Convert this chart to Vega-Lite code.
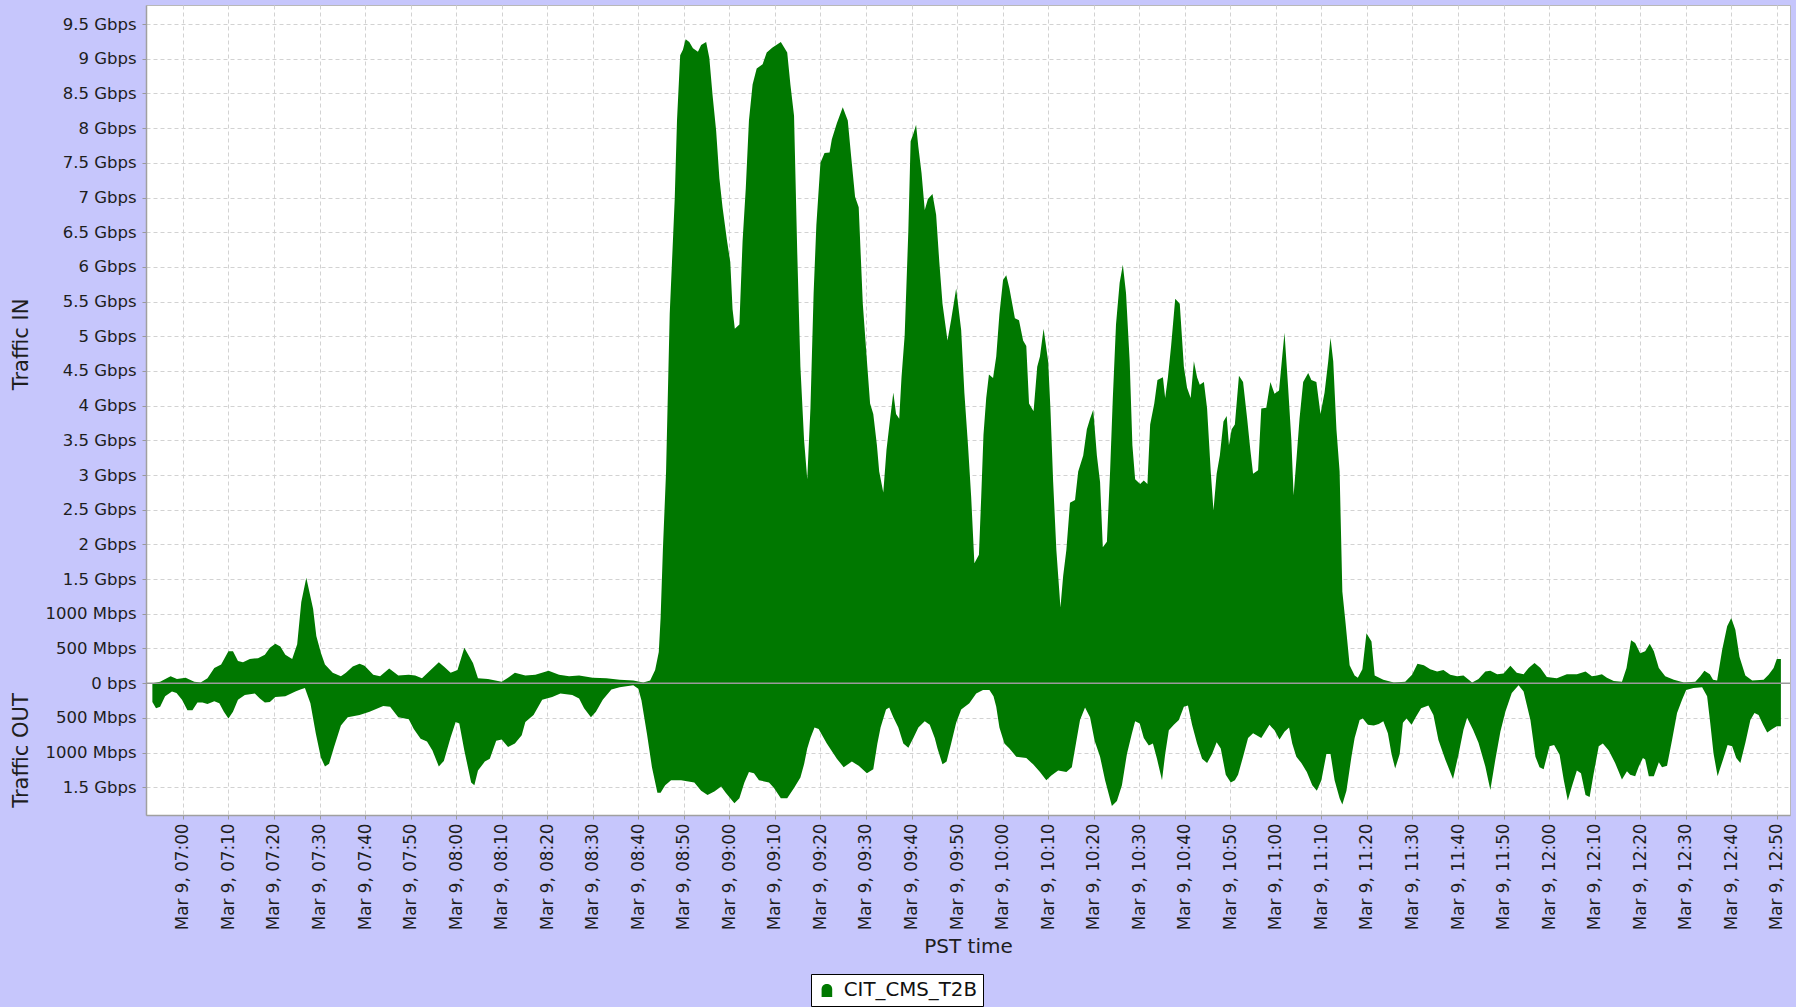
{
"$schema": "https://vega.github.io/schema/vega-lite/v6.json",
"width": 1644,
"height": 810,
"autosize": {"type": "none"},
"padding": {"left": 146, "top": 5, "right": 6, "bottom": 192},
"background": "#c6c6fc",
"config": {
  "font": "DejaVu Sans",
  "view": {"fill": "white", "stroke": "#b8b8b8", "strokeWidth": 1}
},
"layer": [
  {
    "data": {"values": [
{"min":-6.7,"dir":"IN","gbps":0},{"min":-5.0,"dir":"IN","gbps":0.02},{"min":-2.7,"dir":"IN","gbps":0.10},{"min":-1.3,"dir":"IN","gbps":0.06},{"min":0.6,"dir":"IN","gbps":0.08},{"min":2.5,"dir":"IN","gbps":0.02},{"min":3.9,"dir":"IN","gbps":0.01},{"min":5.4,"dir":"IN","gbps":0.07},{"min":6.9,"dir":"IN","gbps":0.22},{"min":8.4,"dir":"IN","gbps":0.27},{"min":10.0,"dir":"IN","gbps":0.46},{"min":11.0,"dir":"IN","gbps":0.46},{"min":12.1,"dir":"IN","gbps":0.32},{"min":13.2,"dir":"IN","gbps":0.30},{"min":14.7,"dir":"IN","gbps":0.35},{"min":16.5,"dir":"IN","gbps":0.36},{"min":18.0,"dir":"IN","gbps":0.41},{"min":19.1,"dir":"IN","gbps":0.51},{"min":20.3,"dir":"IN","gbps":0.57},{"min":21.4,"dir":"IN","gbps":0.53},{"min":22.5,"dir":"IN","gbps":0.41},{"min":24.0,"dir":"IN","gbps":0.35},{"min":25.1,"dir":"IN","gbps":0.56},{"min":26.0,"dir":"IN","gbps":1.17},{"min":27.1,"dir":"IN","gbps":1.52},{"min":28.6,"dir":"IN","gbps":1.07},{"min":29.3,"dir":"IN","gbps":0.68},{"min":30.3,"dir":"IN","gbps":0.44},{"min":31.2,"dir":"IN","gbps":0.27},{"min":32.9,"dir":"IN","gbps":0.15},{"min":34.7,"dir":"IN","gbps":0.10},{"min":35.8,"dir":"IN","gbps":0.15},{"min":37.3,"dir":"IN","gbps":0.24},{"min":38.8,"dir":"IN","gbps":0.28},{"min":39.9,"dir":"IN","gbps":0.25},{"min":41.8,"dir":"IN","gbps":0.12},{"min":43.3,"dir":"IN","gbps":0.10},{"min":45.3,"dir":"IN","gbps":0.21},{"min":47.3,"dir":"IN","gbps":0.11},{"min":49.6,"dir":"IN","gbps":0.12},{"min":51.0,"dir":"IN","gbps":0.11},{"min":52.5,"dir":"IN","gbps":0.07},{"min":54.4,"dir":"IN","gbps":0.19},{"min":56.2,"dir":"IN","gbps":0.30},{"min":57.3,"dir":"IN","gbps":0.24},{"min":58.8,"dir":"IN","gbps":0.15},{"min":60.3,"dir":"IN","gbps":0.19},{"min":61.8,"dir":"IN","gbps":0.51},{"min":63.7,"dir":"IN","gbps":0.29},{"min":64.8,"dir":"IN","gbps":0.07},{"min":67.0,"dir":"IN","gbps":0.06},{"min":70.0,"dir":"IN","gbps":0.02},{"min":71.4,"dir":"IN","gbps":0.08},{"min":72.9,"dir":"IN","gbps":0.15},{"min":75.2,"dir":"IN","gbps":0.11},{"min":77.4,"dir":"IN","gbps":0.12},{"min":80.3,"dir":"IN","gbps":0.18},{"min":82.6,"dir":"IN","gbps":0.12},{"min":84.8,"dir":"IN","gbps":0.10},{"min":87.0,"dir":"IN","gbps":0.11},{"min":90.0,"dir":"IN","gbps":0.08},{"min":93.0,"dir":"IN","gbps":0.07},{"min":95.9,"dir":"IN","gbps":0.05},{"min":98.9,"dir":"IN","gbps":0.04},{"min":101.1,"dir":"IN","gbps":0.01},{"min":102.6,"dir":"IN","gbps":0.04},{"min":103.7,"dir":"IN","gbps":0.19},{"min":104.5,"dir":"IN","gbps":0.45},{"min":104.9,"dir":"IN","gbps":0.94},{"min":105.4,"dir":"IN","gbps":1.92},{"min":106.1,"dir":"IN","gbps":3.05},{"min":106.9,"dir":"IN","gbps":5.32},{"min":107.4,"dir":"IN","gbps":6.07},{"min":108.0,"dir":"IN","gbps":6.98},{"min":108.5,"dir":"IN","gbps":8.11},{"min":109.2,"dir":"IN","gbps":9.05},{"min":109.8,"dir":"IN","gbps":9.13},{"min":110.4,"dir":"IN","gbps":9.28},{"min":111.2,"dir":"IN","gbps":9.24},{"min":112.0,"dir":"IN","gbps":9.15},{"min":113.1,"dir":"IN","gbps":9.10},{"min":113.8,"dir":"IN","gbps":9.20},{"min":114.9,"dir":"IN","gbps":9.24},{"min":115.6,"dir":"IN","gbps":9.01},{"min":116.3,"dir":"IN","gbps":8.48},{"min":117.1,"dir":"IN","gbps":7.96},{"min":117.8,"dir":"IN","gbps":7.28},{"min":118.5,"dir":"IN","gbps":6.86},{"min":119.5,"dir":"IN","gbps":6.37},{"min":120.2,"dir":"IN","gbps":6.07},{"min":120.7,"dir":"IN","gbps":5.39},{"min":121.2,"dir":"IN","gbps":5.11},{"min":122.2,"dir":"IN","gbps":5.17},{"min":122.9,"dir":"IN","gbps":6.37},{"min":123.6,"dir":"IN","gbps":7.13},{"min":124.3,"dir":"IN","gbps":8.11},{"min":125.1,"dir":"IN","gbps":8.63},{"min":126.0,"dir":"IN","gbps":8.86},{"min":127.3,"dir":"IN","gbps":8.92},{"min":128.2,"dir":"IN","gbps":9.09},{"min":129.4,"dir":"IN","gbps":9.16},{"min":131.3,"dir":"IN","gbps":9.24},{"min":132.7,"dir":"IN","gbps":9.09},{"min":133.4,"dir":"IN","gbps":8.63},{"min":134.2,"dir":"IN","gbps":8.18},{"min":134.9,"dir":"IN","gbps":6.22},{"min":135.6,"dir":"IN","gbps":4.56},{"min":136.4,"dir":"IN","gbps":3.51},{"min":137.1,"dir":"IN","gbps":2.94},{"min":137.8,"dir":"IN","gbps":3.96},{"min":138.5,"dir":"IN","gbps":5.62},{"min":139.1,"dir":"IN","gbps":6.60},{"min":140.0,"dir":"IN","gbps":7.50},{"min":140.9,"dir":"IN","gbps":7.64},{"min":142.0,"dir":"IN","gbps":7.65},{"min":142.5,"dir":"IN","gbps":7.84},{"min":143.6,"dir":"IN","gbps":8.07},{"min":144.9,"dir":"IN","gbps":8.30},{"min":146.0,"dir":"IN","gbps":8.11},{"min":146.7,"dir":"IN","gbps":7.62},{"min":147.6,"dir":"IN","gbps":7.01},{"min":148.4,"dir":"IN","gbps":6.86},{"min":149.3,"dir":"IN","gbps":5.47},{"min":150.3,"dir":"IN","gbps":4.56},{"min":150.9,"dir":"IN","gbps":4.03},{"min":151.6,"dir":"IN","gbps":3.88},{"min":152.4,"dir":"IN","gbps":3.43},{"min":152.9,"dir":"IN","gbps":3.05},{"min":153.8,"dir":"IN","gbps":2.75},{"min":154.5,"dir":"IN","gbps":3.36},{"min":155.3,"dir":"IN","gbps":3.81},{"min":156.0,"dir":"IN","gbps":4.19},{"min":156.6,"dir":"IN","gbps":3.88},{"min":157.3,"dir":"IN","gbps":3.81},{"min":157.8,"dir":"IN","gbps":4.41},{"min":158.5,"dir":"IN","gbps":5.02},{"min":159.3,"dir":"IN","gbps":6.52},{"min":159.8,"dir":"IN","gbps":7.81},{"min":160.4,"dir":"IN","gbps":7.92},{"min":161.0,"dir":"IN","gbps":8.05},{"min":161.5,"dir":"IN","gbps":7.73},{"min":162.2,"dir":"IN","gbps":7.35},{"min":162.9,"dir":"IN","gbps":6.82},{"min":163.6,"dir":"IN","gbps":6.98},{"min":164.6,"dir":"IN","gbps":7.05},{"min":165.4,"dir":"IN","gbps":6.75},{"min":166.1,"dir":"IN","gbps":6.07},{"min":166.8,"dir":"IN","gbps":5.47},{"min":167.9,"dir":"IN","gbps":4.94},{"min":168.7,"dir":"IN","gbps":5.24},{"min":169.8,"dir":"IN","gbps":5.69},{"min":170.9,"dir":"IN","gbps":5.09},{"min":171.6,"dir":"IN","gbps":4.19},{"min":172.4,"dir":"IN","gbps":3.43},{"min":173.1,"dir":"IN","gbps":2.68},{"min":173.8,"dir":"IN","gbps":1.73},{"min":174.8,"dir":"IN","gbps":1.85},{"min":175.3,"dir":"IN","gbps":2.68},{"min":175.8,"dir":"IN","gbps":3.58},{"min":176.4,"dir":"IN","gbps":4.11},{"min":177.0,"dir":"IN","gbps":4.45},{"min":177.9,"dir":"IN","gbps":4.40},{"min":178.6,"dir":"IN","gbps":4.71},{"min":179.3,"dir":"IN","gbps":5.32},{"min":180.1,"dir":"IN","gbps":5.81},{"min":180.8,"dir":"IN","gbps":5.88},{"min":181.5,"dir":"IN","gbps":5.69},{"min":182.7,"dir":"IN","gbps":5.26},{"min":183.6,"dir":"IN","gbps":5.23},{"min":184.5,"dir":"IN","gbps":4.94},{"min":185.2,"dir":"IN","gbps":4.86},{"min":185.8,"dir":"IN","gbps":4.03},{"min":186.8,"dir":"IN","gbps":3.92},{"min":187.6,"dir":"IN","gbps":4.56},{"min":188.2,"dir":"IN","gbps":4.71},{"min":189.0,"dir":"IN","gbps":5.11},{"min":190.0,"dir":"IN","gbps":4.64},{"min":190.5,"dir":"IN","gbps":3.96},{"min":191.1,"dir":"IN","gbps":2.90},{"min":191.8,"dir":"IN","gbps":1.92},{"min":192.7,"dir":"IN","gbps":1.09},{"min":193.3,"dir":"IN","gbps":1.55},{"min":194.0,"dir":"IN","gbps":1.92},{"min":194.8,"dir":"IN","gbps":2.60},{"min":195.9,"dir":"IN","gbps":2.64},{"min":196.6,"dir":"IN","gbps":3.05},{"min":197.7,"dir":"IN","gbps":3.28},{"min":198.5,"dir":"IN","gbps":3.66},{"min":199.2,"dir":"IN","gbps":3.81},{"min":199.9,"dir":"IN","gbps":3.94},{"min":200.7,"dir":"IN","gbps":3.28},{"min":201.4,"dir":"IN","gbps":2.90},{"min":202.0,"dir":"IN","gbps":1.96},{"min":202.9,"dir":"IN","gbps":2.04},{"min":203.6,"dir":"IN","gbps":3.05},{"min":204.2,"dir":"IN","gbps":4.11},{"min":204.9,"dir":"IN","gbps":5.17},{"min":205.7,"dir":"IN","gbps":5.77},{"min":206.4,"dir":"IN","gbps":6.03},{"min":207.1,"dir":"IN","gbps":5.62},{"min":207.9,"dir":"IN","gbps":4.64},{"min":208.5,"dir":"IN","gbps":3.43},{"min":209.1,"dir":"IN","gbps":2.94},{"min":210.2,"dir":"IN","gbps":2.87},{"min":211.0,"dir":"IN","gbps":2.92},{"min":211.8,"dir":"IN","gbps":2.87},{"min":212.4,"dir":"IN","gbps":3.73},{"min":213.3,"dir":"IN","gbps":4.03},{"min":214.0,"dir":"IN","gbps":4.37},{"min":215.2,"dir":"IN","gbps":4.41},{"min":215.7,"dir":"IN","gbps":4.11},{"min":216.3,"dir":"IN","gbps":4.41},{"min":217.0,"dir":"IN","gbps":4.86},{"min":217.9,"dir":"IN","gbps":5.54},{"min":218.9,"dir":"IN","gbps":5.47},{"min":219.8,"dir":"IN","gbps":4.56},{"min":220.5,"dir":"IN","gbps":4.26},{"min":221.3,"dir":"IN","gbps":4.11},{"min":222.0,"dir":"IN","gbps":4.64},{"min":222.7,"dir":"IN","gbps":4.41},{"min":223.3,"dir":"IN","gbps":4.30},{"min":224.2,"dir":"IN","gbps":4.34},{"min":224.9,"dir":"IN","gbps":3.96},{"min":225.7,"dir":"IN","gbps":3.05},{"min":226.3,"dir":"IN","gbps":2.49},{"min":227.0,"dir":"IN","gbps":3.02},{"min":227.7,"dir":"IN","gbps":3.28},{"min":228.5,"dir":"IN","gbps":3.77},{"min":229.2,"dir":"IN","gbps":3.85},{"min":229.7,"dir":"IN","gbps":3.43},{"min":230.3,"dir":"IN","gbps":3.66},{"min":231.0,"dir":"IN","gbps":3.73},{"min":231.9,"dir":"IN","gbps":4.43},{"min":232.8,"dir":"IN","gbps":4.34},{"min":233.7,"dir":"IN","gbps":3.81},{"min":234.4,"dir":"IN","gbps":3.36},{"min":235.0,"dir":"IN","gbps":3.02},{"min":236.1,"dir":"IN","gbps":3.07},{"min":236.8,"dir":"IN","gbps":3.96},{"min":237.9,"dir":"IN","gbps":3.97},{"min":238.8,"dir":"IN","gbps":4.34},{"min":239.7,"dir":"IN","gbps":4.17},{"min":240.7,"dir":"IN","gbps":4.22},{"min":241.4,"dir":"IN","gbps":4.71},{"min":241.9,"dir":"IN","gbps":5.05},{"min":242.7,"dir":"IN","gbps":4.26},{"min":243.4,"dir":"IN","gbps":3.51},{"min":243.9,"dir":"IN","gbps":2.71},{"min":244.5,"dir":"IN","gbps":3.21},{"min":245.2,"dir":"IN","gbps":3.81},{"min":246.0,"dir":"IN","gbps":4.34},{"min":247.1,"dir":"IN","gbps":4.47},{"min":247.8,"dir":"IN","gbps":4.37},{"min":248.9,"dir":"IN","gbps":4.34},{"min":249.8,"dir":"IN","gbps":3.88},{"min":250.7,"dir":"IN","gbps":4.19},{"min":251.5,"dir":"IN","gbps":4.64},{"min":252.0,"dir":"IN","gbps":4.98},{"min":252.6,"dir":"IN","gbps":4.64},{"min":253.3,"dir":"IN","gbps":3.66},{"min":254.0,"dir":"IN","gbps":3.05},{"min":254.6,"dir":"IN","gbps":1.32},{"min":255.3,"dir":"IN","gbps":0.87},{"min":256.2,"dir":"IN","gbps":0.26},{"min":257.3,"dir":"IN","gbps":0.11},{"min":258.0,"dir":"IN","gbps":0.08},{"min":259.0,"dir":"IN","gbps":0.20},{"min":259.9,"dir":"IN","gbps":0.72},{"min":261.0,"dir":"IN","gbps":0.60},{"min":261.7,"dir":"IN","gbps":0.11},{"min":263.6,"dir":"IN","gbps":0.05},{"min":265.9,"dir":"IN","gbps":0.01},{"min":268.4,"dir":"IN","gbps":0.02},{"min":269.9,"dir":"IN","gbps":0.12},{"min":271.1,"dir":"IN","gbps":0.28},{"min":272.5,"dir":"IN","gbps":0.26},{"min":273.9,"dir":"IN","gbps":0.20},{"min":275.4,"dir":"IN","gbps":0.17},{"min":276.8,"dir":"IN","gbps":0.19},{"min":278.3,"dir":"IN","gbps":0.12},{"min":279.8,"dir":"IN","gbps":0.10},{"min":281.2,"dir":"IN","gbps":0.11},{"min":283.1,"dir":"IN","gbps":0.01},{"min":284.5,"dir":"IN","gbps":0.06},{"min":286.0,"dir":"IN","gbps":0.17},{"min":287.1,"dir":"IN","gbps":0.18},{"min":288.6,"dir":"IN","gbps":0.13},{"min":290.0,"dir":"IN","gbps":0.14},{"min":291.5,"dir":"IN","gbps":0.25},{"min":292.9,"dir":"IN","gbps":0.15},{"min":294.4,"dir":"IN","gbps":0.13},{"min":295.5,"dir":"IN","gbps":0.22},{"min":296.8,"dir":"IN","gbps":0.29},{"min":298.1,"dir":"IN","gbps":0.22},{"min":299.5,"dir":"IN","gbps":0.09},{"min":301.7,"dir":"IN","gbps":0.07},{"min":303.9,"dir":"IN","gbps":0.13},{"min":306.1,"dir":"IN","gbps":0.13},{"min":308.0,"dir":"IN","gbps":0.17},{"min":309.4,"dir":"IN","gbps":0.10},{"min":310.5,"dir":"IN","gbps":0.11},{"min":311.6,"dir":"IN","gbps":0.13},{"min":312.7,"dir":"IN","gbps":0.08},{"min":314.2,"dir":"IN","gbps":0.03},{"min":316.0,"dir":"IN","gbps":0.02},{"min":317.0,"dir":"IN","gbps":0.22},{"min":318.0,"dir":"IN","gbps":0.62},{"min":318.9,"dir":"IN","gbps":0.58},{"min":320.0,"dir":"IN","gbps":0.43},{"min":321.1,"dir":"IN","gbps":0.46},{"min":322.1,"dir":"IN","gbps":0.57},{"min":323.0,"dir":"IN","gbps":0.46},{"min":324.1,"dir":"IN","gbps":0.22},{"min":325.5,"dir":"IN","gbps":0.10},{"min":327.4,"dir":"IN","gbps":0.05},{"min":329.6,"dir":"IN","gbps":0.01},{"min":332.1,"dir":"IN","gbps":0.02},{"min":333.2,"dir":"IN","gbps":0.10},{"min":334.1,"dir":"IN","gbps":0.18},{"min":335.3,"dir":"IN","gbps":0.13},{"min":336.0,"dir":"IN","gbps":0.05},{"min":336.9,"dir":"IN","gbps":0.04},{"min":338.0,"dir":"IN","gbps":0.48},{"min":339.1,"dir":"IN","gbps":0.82},{"min":340.0,"dir":"IN","gbps":0.94},{"min":340.9,"dir":"IN","gbps":0.77},{"min":341.8,"dir":"IN","gbps":0.38},{"min":343.1,"dir":"IN","gbps":0.11},{"min":344.6,"dir":"IN","gbps":0.04},{"min":347.1,"dir":"IN","gbps":0.05},{"min":348.2,"dir":"IN","gbps":0.12},{"min":349.3,"dir":"IN","gbps":0.22},{"min":350.0,"dir":"IN","gbps":0.35},{"min":350.9,"dir":"IN","gbps":0.35},
{"min":-6.7,"dir":"OUT","gbps":-0.27},{"min":-5.9,"dir":"OUT","gbps":-0.36},{"min":-5.0,"dir":"OUT","gbps":-0.34},{"min":-3.9,"dir":"OUT","gbps":-0.19},{"min":-2.4,"dir":"OUT","gbps":-0.12},{"min":-1.4,"dir":"OUT","gbps":-0.14},{"min":-0.2,"dir":"OUT","gbps":-0.24},{"min":1.0,"dir":"OUT","gbps":-0.39},{"min":2.1,"dir":"OUT","gbps":-0.39},{"min":3.2,"dir":"OUT","gbps":-0.28},{"min":4.3,"dir":"OUT","gbps":-0.28},{"min":5.4,"dir":"OUT","gbps":-0.30},{"min":6.9,"dir":"OUT","gbps":-0.26},{"min":8.0,"dir":"OUT","gbps":-0.29},{"min":9.0,"dir":"OUT","gbps":-0.41},{"min":10.0,"dir":"OUT","gbps":-0.51},{"min":11.0,"dir":"OUT","gbps":-0.41},{"min":12.1,"dir":"OUT","gbps":-0.24},{"min":13.6,"dir":"OUT","gbps":-0.17},{"min":15.8,"dir":"OUT","gbps":-0.15},{"min":16.9,"dir":"OUT","gbps":-0.22},{"min":18.0,"dir":"OUT","gbps":-0.28},{"min":19.1,"dir":"OUT","gbps":-0.27},{"min":20.3,"dir":"OUT","gbps":-0.20},{"min":22.5,"dir":"OUT","gbps":-0.19},{"min":24.7,"dir":"OUT","gbps":-0.12},{"min":25.8,"dir":"OUT","gbps":-0.09},{"min":26.8,"dir":"OUT","gbps":-0.07},{"min":28.0,"dir":"OUT","gbps":-0.29},{"min":29.2,"dir":"OUT","gbps":-0.73},{"min":30.3,"dir":"OUT","gbps":-1.07},{"min":31.2,"dir":"OUT","gbps":-1.20},{"min":32.1,"dir":"OUT","gbps":-1.16},{"min":33.2,"dir":"OUT","gbps":-0.92},{"min":34.7,"dir":"OUT","gbps":-0.61},{"min":36.2,"dir":"OUT","gbps":-0.49},{"min":38.8,"dir":"OUT","gbps":-0.46},{"min":41.0,"dir":"OUT","gbps":-0.41},{"min":44.0,"dir":"OUT","gbps":-0.33},{"min":45.5,"dir":"OUT","gbps":-0.34},{"min":47.3,"dir":"OUT","gbps":-0.49},{"min":49.6,"dir":"OUT","gbps":-0.52},{"min":50.7,"dir":"OUT","gbps":-0.66},{"min":52.2,"dir":"OUT","gbps":-0.80},{"min":53.6,"dir":"OUT","gbps":-0.84},{"min":54.8,"dir":"OUT","gbps":-0.97},{"min":56.2,"dir":"OUT","gbps":-1.20},{"min":57.3,"dir":"OUT","gbps":-1.12},{"min":58.8,"dir":"OUT","gbps":-0.78},{"min":59.9,"dir":"OUT","gbps":-0.56},{"min":60.7,"dir":"OUT","gbps":-0.58},{"min":61.8,"dir":"OUT","gbps":-0.97},{"min":63.3,"dir":"OUT","gbps":-1.43},{"min":64.0,"dir":"OUT","gbps":-1.47},{"min":64.8,"dir":"OUT","gbps":-1.26},{"min":66.3,"dir":"OUT","gbps":-1.13},{"min":67.4,"dir":"OUT","gbps":-1.09},{"min":68.8,"dir":"OUT","gbps":-0.83},{"min":70.0,"dir":"OUT","gbps":-0.81},{"min":71.4,"dir":"OUT","gbps":-0.92},{"min":72.9,"dir":"OUT","gbps":-0.87},{"min":74.4,"dir":"OUT","gbps":-0.75},{"min":75.2,"dir":"OUT","gbps":-0.56},{"min":77.0,"dir":"OUT","gbps":-0.46},{"min":78.9,"dir":"OUT","gbps":-0.24},{"min":81.1,"dir":"OUT","gbps":-0.20},{"min":82.9,"dir":"OUT","gbps":-0.15},{"min":85.5,"dir":"OUT","gbps":-0.17},{"min":87.0,"dir":"OUT","gbps":-0.22},{"min":88.1,"dir":"OUT","gbps":-0.36},{"min":89.6,"dir":"OUT","gbps":-0.49},{"min":90.7,"dir":"OUT","gbps":-0.41},{"min":92.2,"dir":"OUT","gbps":-0.24},{"min":94.1,"dir":"OUT","gbps":-0.09},{"min":95.9,"dir":"OUT","gbps":-0.06},{"min":98.9,"dir":"OUT","gbps":-0.03},{"min":100.0,"dir":"OUT","gbps":-0.08},{"min":100.7,"dir":"OUT","gbps":-0.25},{"min":101.9,"dir":"OUT","gbps":-0.73},{"min":103.0,"dir":"OUT","gbps":-1.21},{"min":104.2,"dir":"OUT","gbps":-1.58},{"min":104.9,"dir":"OUT","gbps":-1.58},{"min":105.9,"dir":"OUT","gbps":-1.47},{"min":107.2,"dir":"OUT","gbps":-1.40},{"min":109.4,"dir":"OUT","gbps":-1.40},{"min":112.3,"dir":"OUT","gbps":-1.43},{"min":113.8,"dir":"OUT","gbps":-1.55},{"min":115.2,"dir":"OUT","gbps":-1.61},{"min":116.7,"dir":"OUT","gbps":-1.56},{"min":118.2,"dir":"OUT","gbps":-1.49},{"min":119.2,"dir":"OUT","gbps":-1.58},{"min":121.1,"dir":"OUT","gbps":-1.73},{"min":122.2,"dir":"OUT","gbps":-1.66},{"min":123.3,"dir":"OUT","gbps":-1.43},{"min":124.3,"dir":"OUT","gbps":-1.28},{"min":125.4,"dir":"OUT","gbps":-1.30},{"min":126.5,"dir":"OUT","gbps":-1.40},{"min":128.7,"dir":"OUT","gbps":-1.43},{"min":129.8,"dir":"OUT","gbps":-1.51},{"min":131.3,"dir":"OUT","gbps":-1.66},{"min":132.7,"dir":"OUT","gbps":-1.66},{"min":134.2,"dir":"OUT","gbps":-1.51},{"min":135.6,"dir":"OUT","gbps":-1.36},{"min":136.4,"dir":"OUT","gbps":-1.17},{"min":137.1,"dir":"OUT","gbps":-0.94},{"min":137.8,"dir":"OUT","gbps":-0.79},{"min":138.7,"dir":"OUT","gbps":-0.64},{"min":139.6,"dir":"OUT","gbps":-0.66},{"min":141.4,"dir":"OUT","gbps":-0.87},{"min":143.6,"dir":"OUT","gbps":-1.09},{"min":145.1,"dir":"OUT","gbps":-1.21},{"min":146.9,"dir":"OUT","gbps":-1.13},{"min":148.4,"dir":"OUT","gbps":-1.19},{"min":150.2,"dir":"OUT","gbps":-1.30},{"min":151.6,"dir":"OUT","gbps":-1.24},{"min":152.5,"dir":"OUT","gbps":-0.87},{"min":153.2,"dir":"OUT","gbps":-0.64},{"min":154.4,"dir":"OUT","gbps":-0.38},{"min":155.1,"dir":"OUT","gbps":-0.35},{"min":156.0,"dir":"OUT","gbps":-0.49},{"min":157.1,"dir":"OUT","gbps":-0.64},{"min":158.2,"dir":"OUT","gbps":-0.87},{"min":159.3,"dir":"OUT","gbps":-0.93},{"min":160.4,"dir":"OUT","gbps":-0.79},{"min":161.5,"dir":"OUT","gbps":-0.64},{"min":162.9,"dir":"OUT","gbps":-0.55},{"min":164.0,"dir":"OUT","gbps":-0.60},{"min":165.1,"dir":"OUT","gbps":-0.79},{"min":165.7,"dir":"OUT","gbps":-0.94},{"min":166.8,"dir":"OUT","gbps":-1.17},{"min":167.7,"dir":"OUT","gbps":-1.13},{"min":168.7,"dir":"OUT","gbps":-0.87},{"min":169.8,"dir":"OUT","gbps":-0.57},{"min":170.9,"dir":"OUT","gbps":-0.38},{"min":172.7,"dir":"OUT","gbps":-0.29},{"min":174.2,"dir":"OUT","gbps":-0.15},{"min":175.7,"dir":"OUT","gbps":-0.10},{"min":177.1,"dir":"OUT","gbps":-0.10},{"min":178.0,"dir":"OUT","gbps":-0.19},{"min":178.6,"dir":"OUT","gbps":-0.34},{"min":179.3,"dir":"OUT","gbps":-0.64},{"min":180.4,"dir":"OUT","gbps":-0.87},{"min":181.5,"dir":"OUT","gbps":-0.94},{"min":183.0,"dir":"OUT","gbps":-1.06},{"min":185.2,"dir":"OUT","gbps":-1.08},{"min":186.7,"dir":"OUT","gbps":-1.17},{"min":188.2,"dir":"OUT","gbps":-1.28},{"min":189.6,"dir":"OUT","gbps":-1.40},{"min":190.7,"dir":"OUT","gbps":-1.33},{"min":192.2,"dir":"OUT","gbps":-1.26},{"min":194.0,"dir":"OUT","gbps":-1.28},{"min":195.2,"dir":"OUT","gbps":-1.21},{"min":196.1,"dir":"OUT","gbps":-0.87},{"min":197.0,"dir":"OUT","gbps":-0.53},{"min":198.1,"dir":"OUT","gbps":-0.35},{"min":199.2,"dir":"OUT","gbps":-0.49},{"min":200.2,"dir":"OUT","gbps":-0.83},{"min":201.4,"dir":"OUT","gbps":-1.06},{"min":202.5,"dir":"OUT","gbps":-1.40},{"min":204.0,"dir":"OUT","gbps":-1.77},{"min":205.1,"dir":"OUT","gbps":-1.70},{"min":206.2,"dir":"OUT","gbps":-1.47},{"min":207.3,"dir":"OUT","gbps":-1.02},{"min":208.4,"dir":"OUT","gbps":-0.72},{"min":209.1,"dir":"OUT","gbps":-0.55},{"min":210.1,"dir":"OUT","gbps":-0.58},{"min":211.0,"dir":"OUT","gbps":-0.79},{"min":212.1,"dir":"OUT","gbps":-0.90},{"min":213.0,"dir":"OUT","gbps":-0.87},{"min":213.9,"dir":"OUT","gbps":-1.09},{"min":215.0,"dir":"OUT","gbps":-1.40},{"min":215.7,"dir":"OUT","gbps":-1.02},{"min":216.5,"dir":"OUT","gbps":-0.68},{"min":217.6,"dir":"OUT","gbps":-0.60},{"min":218.7,"dir":"OUT","gbps":-0.53},{"min":219.8,"dir":"OUT","gbps":-0.34},{"min":220.7,"dir":"OUT","gbps":-0.32},{"min":221.6,"dir":"OUT","gbps":-0.60},{"min":222.7,"dir":"OUT","gbps":-0.87},{"min":223.8,"dir":"OUT","gbps":-1.09},{"min":224.9,"dir":"OUT","gbps":-1.15},{"min":226.0,"dir":"OUT","gbps":-1.02},{"min":227.0,"dir":"OUT","gbps":-0.85},{"min":227.9,"dir":"OUT","gbps":-0.94},{"min":229.0,"dir":"OUT","gbps":-1.32},{"min":230.1,"dir":"OUT","gbps":-1.43},{"min":231.0,"dir":"OUT","gbps":-1.40},{"min":231.7,"dir":"OUT","gbps":-1.32},{"min":232.8,"dir":"OUT","gbps":-1.06},{"min":233.9,"dir":"OUT","gbps":-0.79},{"min":235.0,"dir":"OUT","gbps":-0.72},{"min":236.8,"dir":"OUT","gbps":-0.79},{"min":238.6,"dir":"OUT","gbps":-0.60},{"min":239.7,"dir":"OUT","gbps":-0.68},{"min":240.8,"dir":"OUT","gbps":-0.81},{"min":241.9,"dir":"OUT","gbps":-0.70},{"min":242.9,"dir":"OUT","gbps":-0.64},{"min":243.6,"dir":"OUT","gbps":-0.87},{"min":244.5,"dir":"OUT","gbps":-1.06},{"min":245.6,"dir":"OUT","gbps":-1.15},{"min":246.8,"dir":"OUT","gbps":-1.28},{"min":248.0,"dir":"OUT","gbps":-1.47},{"min":249.0,"dir":"OUT","gbps":-1.55},{"min":250.0,"dir":"OUT","gbps":-1.40},{"min":251.1,"dir":"OUT","gbps":-1.02},{"min":252.0,"dir":"OUT","gbps":-1.02},{"min":252.9,"dir":"OUT","gbps":-1.40},{"min":254.0,"dir":"OUT","gbps":-1.66},{"min":254.6,"dir":"OUT","gbps":-1.75},{"min":255.5,"dir":"OUT","gbps":-1.55},{"min":256.6,"dir":"OUT","gbps":-1.06},{"min":257.3,"dir":"OUT","gbps":-0.79},{"min":258.4,"dir":"OUT","gbps":-0.53},{"min":259.1,"dir":"OUT","gbps":-0.51},{"min":260.2,"dir":"OUT","gbps":-0.60},{"min":261.5,"dir":"OUT","gbps":-0.61},{"min":262.6,"dir":"OUT","gbps":-0.59},{"min":263.6,"dir":"OUT","gbps":-0.55},{"min":264.6,"dir":"OUT","gbps":-0.72},{"min":265.4,"dir":"OUT","gbps":-1.02},{"min":266.2,"dir":"OUT","gbps":-1.23},{"min":267.2,"dir":"OUT","gbps":-1.02},{"min":267.9,"dir":"OUT","gbps":-0.57},{"min":268.7,"dir":"OUT","gbps":-0.51},{"min":269.8,"dir":"OUT","gbps":-0.60},{"min":270.8,"dir":"OUT","gbps":-0.48},{"min":271.9,"dir":"OUT","gbps":-0.36},{"min":273.5,"dir":"OUT","gbps":-0.32},{"min":274.6,"dir":"OUT","gbps":-0.46},{"min":275.7,"dir":"OUT","gbps":-0.82},{"min":277.2,"dir":"OUT","gbps":-1.10},{"min":278.9,"dir":"OUT","gbps":-1.38},{"min":280.1,"dir":"OUT","gbps":-1.03},{"min":281.2,"dir":"OUT","gbps":-0.67},{"min":282.0,"dir":"OUT","gbps":-0.50},{"min":283.3,"dir":"OUT","gbps":-0.67},{"min":284.5,"dir":"OUT","gbps":-0.86},{"min":286.0,"dir":"OUT","gbps":-1.20},{"min":287.1,"dir":"OUT","gbps":-1.54},{"min":288.2,"dir":"OUT","gbps":-1.10},{"min":289.3,"dir":"OUT","gbps":-0.70},{"min":290.4,"dir":"OUT","gbps":-0.41},{"min":291.8,"dir":"OUT","gbps":-0.14},{"min":293.3,"dir":"OUT","gbps":-0.03},{"min":294.4,"dir":"OUT","gbps":-0.12},{"min":295.9,"dir":"OUT","gbps":-0.53},{"min":297.0,"dir":"OUT","gbps":-1.06},{"min":297.9,"dir":"OUT","gbps":-1.21},{"min":298.8,"dir":"OUT","gbps":-1.24},{"min":300.1,"dir":"OUT","gbps":-0.91},{"min":301.1,"dir":"OUT","gbps":-0.89},{"min":302.3,"dir":"OUT","gbps":-1.03},{"min":303.2,"dir":"OUT","gbps":-1.39},{"min":304.1,"dir":"OUT","gbps":-1.69},{"min":305.0,"dir":"OUT","gbps":-1.49},{"min":306.1,"dir":"OUT","gbps":-1.26},{"min":307.0,"dir":"OUT","gbps":-1.30},{"min":308.0,"dir":"OUT","gbps":-1.61},{"min":308.9,"dir":"OUT","gbps":-1.64},{"min":309.8,"dir":"OUT","gbps":-1.30},{"min":310.9,"dir":"OUT","gbps":-0.91},{"min":311.8,"dir":"OUT","gbps":-0.87},{"min":313.1,"dir":"OUT","gbps":-0.97},{"min":314.5,"dir":"OUT","gbps":-1.15},{"min":316.0,"dir":"OUT","gbps":-1.39},{"min":317.1,"dir":"OUT","gbps":-1.27},{"min":317.8,"dir":"OUT","gbps":-1.32},{"min":318.9,"dir":"OUT","gbps":-1.34},{"min":319.7,"dir":"OUT","gbps":-1.20},{"min":320.6,"dir":"OUT","gbps":-1.08},{"min":321.1,"dir":"OUT","gbps":-1.10},{"min":321.9,"dir":"OUT","gbps":-1.34},{"min":323.0,"dir":"OUT","gbps":-1.34},{"min":324.1,"dir":"OUT","gbps":-1.14},{"min":324.8,"dir":"OUT","gbps":-1.21},{"min":325.9,"dir":"OUT","gbps":-1.19},{"min":327.0,"dir":"OUT","gbps":-0.82},{"min":328.1,"dir":"OUT","gbps":-0.43},{"min":329.2,"dir":"OUT","gbps":-0.24},{"min":330.1,"dir":"OUT","gbps":-0.10},{"min":331.7,"dir":"OUT","gbps":-0.07},{"min":333.6,"dir":"OUT","gbps":-0.06},{"min":334.7,"dir":"OUT","gbps":-0.19},{"min":335.4,"dir":"OUT","gbps":-0.58},{"min":336.1,"dir":"OUT","gbps":-1.01},{"min":337.0,"dir":"OUT","gbps":-1.34},{"min":338.2,"dir":"OUT","gbps":-1.10},{"min":339.2,"dir":"OUT","gbps":-0.89},{"min":340.2,"dir":"OUT","gbps":-0.91},{"min":341.1,"dir":"OUT","gbps":-1.08},{"min":342.0,"dir":"OUT","gbps":-1.15},{"min":343.1,"dir":"OUT","gbps":-0.86},{"min":344.2,"dir":"OUT","gbps":-0.53},{"min":345.1,"dir":"OUT","gbps":-0.43},{"min":346.0,"dir":"OUT","gbps":-0.46},{"min":347.0,"dir":"OUT","gbps":-0.60},{"min":347.9,"dir":"OUT","gbps":-0.71},{"min":349.0,"dir":"OUT","gbps":-0.66},{"min":350.0,"dir":"OUT","gbps":-0.62},{"min":350.9,"dir":"OUT","gbps":-0.62}
    ]},
    "mark": {"type": "area", "interpolate": "linear"},
    "encoding": {
      "x": {
        "field": "min", "type": "quantitative",
        "scale": {"domain": [-8.1, 352.9], "nice": false, "zero": false},
        "axis": {
          "title": "PST time",
          "values": [0,10,20,30,40,50,60,70,80,90,100,110,120,130,140,150,160,170,180,190,200,210,220,230,240,250,260,270,280,290,300,310,320,330,340,350],
          "labelExpr": "'Mar 9, ' + timeFormat(datetime(2010, 2, 9, 7, datum.value, 0, 0), '%H:%M')",
          "labelAngle": -90,
          "labelFontSize": 16.8,
          "labelColor": "#1e1e1e",
          "labelPadding": 4,
          "labelFlush": false,
          "labelOverlap": false,
          "tickSize": 4,
          "tickColor": "#999999",
          "domainColor": "#a0a0a0",
          "domainWidth": 1.5,
          "grid": true,
          "gridDash": [4, 3],
          "gridColor": "#d2d2d2",
          "gridWidth": 1,
          "titleFontSize": 20,
          "titleFontWeight": "normal",
          "titleColor": "#1e1e1e",
          "titlePadding": 7
        }
      },
      "y": {
        "field": "gbps", "type": "quantitative", "stack": null,
        "scale": {"domain": [-1.9, 9.775], "nice": false, "zero": false},
        "axis": {
          "title": "Traffic IN",
          "values": [-1.5,-1,-0.5,0,0.5,1,1.5,2,2.5,3,3.5,4,4.5,5,5.5,6,6.5,7,7.5,8,8.5,9,9.5],
          "labelExpr": "abs(datum.value) < 0.01 ? '0 bps' : abs(datum.value) < 1.25 ? format(abs(datum.value) * 1000, 'd') + ' Mbps' : format(abs(datum.value), '~g') + ' Gbps'",
          "labelFontSize": 16.5,
          "labelColor": "#1e1e1e",
          "labelPadding": 6,
          "labelOverlap": false,
          "labelFlush": false,
          "tickSize": 4,
          "tickColor": "#999999",
          "domainColor": "#a0a0a0",
          "domainWidth": 1.5,
          "grid": true,
          "gridDash": [4, 3],
          "gridColor": "#d2d2d2",
          "gridWidth": 1,
          "titleFontSize": 21,
          "titleFontWeight": "normal",
          "titleColor": "#1e1e1e",
          "titleX": -125,
          "titleY": 339,
          "titleAngle": -90,
          "titleAlign": "center",
          "titleBaseline": "middle"
        }
      },
      "detail": {"field": "dir"},
      "color": {
        "datum": "CIT_CMS_T2B",
        "scale": {"range": ["#007800"]},
        "legend": {
          "title": null,
          "orient": "none",
          "legendX": 665,
          "legendY": 969,
          "direction": "vertical",
          "fillColor": "white",
          "strokeColor": "#000000",
          "padding": 6,
          "cornerRadius": 0,
          "labelFontSize": 19.8,
          "labelColor": "#111111",
          "labelOffset": 7,
          "symbolType": "M-0.75,1L-0.75,-0.1C-0.75,-1.1 0.75,-1.1 0.75,-0.1L0.75,1Z",
          "symbolSize": 200,
          "symbolStrokeWidth": 0,
          "symbolFillColor": "#007800"
        }
      }
    }
  },
  {
    "data": {"values": [{}]},
    "mark": {"type": "rule", "color": "#9a9a9a", "strokeWidth": 1.5},
    "encoding": {
      "y": {
        "datum": 0, "type": "quantitative",
        "axis": {
          "orient": "left",
          "title": "Traffic OUT",
          "labels": false,
          "ticks": false,
          "domain": false,
          "grid": false,
          "titleFontSize": 21,
          "titleFontWeight": "normal",
          "titleColor": "#1e1e1e",
          "titleX": -125,
          "titleY": 745,
          "titleAngle": -90,
          "titleAlign": "center",
          "titleBaseline": "middle"
        }
      }
    }
  }
],
"resolve": {"axis": {"y": "independent"}}
}
